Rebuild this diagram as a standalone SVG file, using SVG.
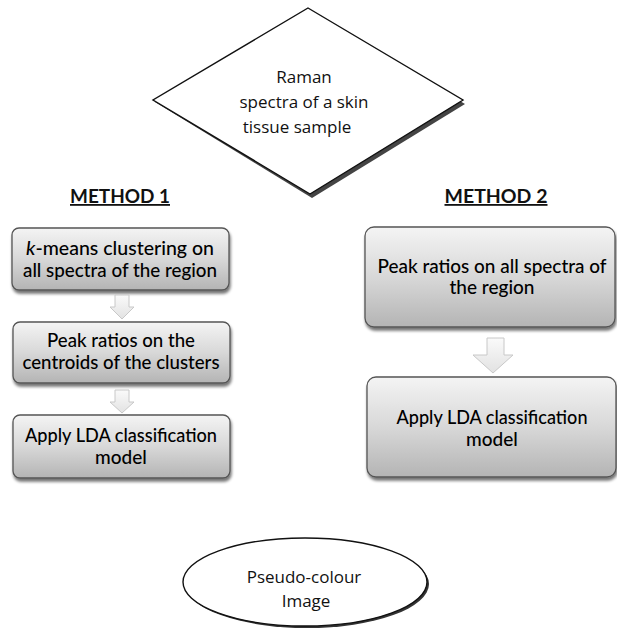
<svg xmlns="http://www.w3.org/2000/svg" width="617" height="629" viewBox="0 0 617 629">
<defs>
<linearGradient id="boxg" x1="0" y1="0" x2="0" y2="1">
<stop offset="0" stop-color="#f4f4f4"/>
<stop offset="0.5" stop-color="#d8d8d8"/>
<stop offset="1" stop-color="#b4b4b4"/>
</linearGradient>
<linearGradient id="arrg" x1="0" y1="0" x2="0" y2="1">
<stop offset="0" stop-color="#fafafa"/>
<stop offset="1" stop-color="#e2e2e2"/>
</linearGradient>
<filter id="sh" x="-10%" y="-10%" width="120%" height="130%">
<feGaussianBlur in="SourceAlpha" stdDeviation="1.5"/>
<feOffset dx="1" dy="3" result="b"/>
<feComponentTransfer><feFuncA type="linear" slope="0.55"/></feComponentTransfer>
<feMerge><feMergeNode/><feMergeNode in="SourceGraphic"/></feMerge>
</filter>
</defs>
<style>
.box{fill:url(#boxg);stroke:#555;stroke-width:1.3;filter:url(#sh)}
.arr{fill:url(#arrg);stroke:#c8c8c8;stroke-width:1}
.t{font-family:"Open Sans","Liberation Sans",sans-serif;font-size:17px;fill:#111;text-anchor:middle}
.b{font-family:Lato,"Open Sans","Liberation Sans",sans-serif;font-size:19px;font-weight:500;fill:#000;text-anchor:middle}
.h{font-family:Lato,"Open Sans","Liberation Sans",sans-serif;font-size:18px;font-weight:bold;fill:#111;text-anchor:middle;text-decoration:underline}
.outline{fill:#fff;stroke:#111;stroke-width:1.4}
</style>
<rect width="617" height="629" fill="#fff"/>

<g id="start">
<polygon points="308,10 463,102 310,196 153,100" fill="#444" transform="translate(2,2)"/>
<polygon class="outline" points="308,8 463,100 310,194 153,100"/>
<text class="t" x="304" y="83">Raman</text>
<text class="t" x="304" y="108">spectra of a skin</text>
<text class="t" x="297" y="133">tissue sample</text>
</g>

<g id="method1-title"><text class="h" x="120" y="203" textLength="100" lengthAdjust="spacingAndGlyphs">METHOD 1</text></g>
<g id="method2-title"><text class="h" x="496" y="203" textLength="103" lengthAdjust="spacingAndGlyphs">METHOD 2</text></g>

<g id="m1-kmeans">
<rect class="box" x="12" y="228" width="217" height="62" rx="7"/>
<text class="b" x="120" y="255" textLength="188" lengthAdjust="spacingAndGlyphs"><tspan font-style="italic">k</tspan>-means clustering on</text>
<text class="b" x="120" y="277" textLength="194" lengthAdjust="spacingAndGlyphs">all spectra of the region</text>
</g>
<g id="m1-peak">
<rect class="box" x="13" y="322" width="217" height="61" rx="7"/>
<text class="b" x="121" y="347" textLength="148" lengthAdjust="spacingAndGlyphs">Peak ratios on the</text>
<text class="b" x="121" y="369" textLength="197" lengthAdjust="spacingAndGlyphs">centroids of the clusters</text>
</g>
<g id="m1-lda">
<rect class="box" x="13" y="415" width="217" height="63" rx="7"/>
<text class="b" x="121" y="442" textLength="192" lengthAdjust="spacingAndGlyphs">Apply LDA classification</text>
<text class="b" x="121" y="464">model</text>
</g>

<g id="m2-peak">
<rect class="box" x="365" y="227" width="250" height="100" rx="9"/>
<text class="b" x="492" y="273" textLength="229" lengthAdjust="spacingAndGlyphs">Peak ratios on all spectra of</text>
<text class="b" x="492" y="294">the region</text>
</g>
<g id="m2-lda">
<rect class="box" x="367" y="377" width="249" height="100" rx="9"/>
<text class="b" x="492" y="424" textLength="191" lengthAdjust="spacingAndGlyphs">Apply LDA classification</text>
<text class="b" x="492" y="446">model</text>
</g>

<g id="end">
<ellipse cx="307" cy="584" rx="122" ry="44" fill="#333"/>
<ellipse class="outline" cx="305" cy="582" rx="122" ry="44"/>
<text class="t" x="304" y="583">Pseudo-colour</text>
<text class="t" x="306" y="607">Image</text>
</g>

<g id="connectors">
<polygon class="arr" points="115,295 129,295 129,307 134,307 122,319 110,307 115,307"/>
<polygon class="arr" points="115,390 129,390 129,402 134,402 122,413 110,402 115,402"/>
<polygon class="arr" points="487,338 504,338 504,355 513,355 493,373 473,355 487,355"/>
</g>
</svg>
